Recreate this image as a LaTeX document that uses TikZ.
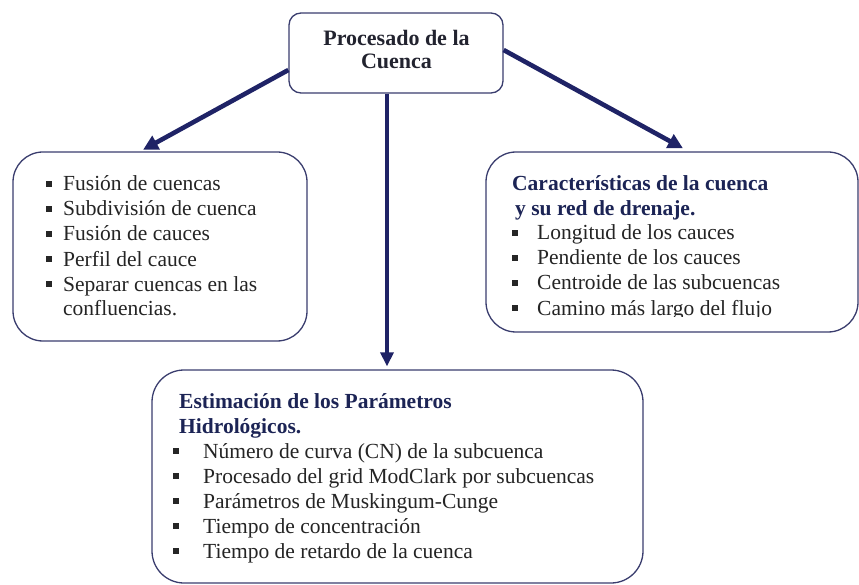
\documentclass[tikz,border=0pt]{standalone}
\usepackage{fontspec}
\setmainfont{Liberation Serif}
\usetikzlibrary{arrows.meta,calc}
\definecolor{navy}{HTML}{1F2366}
\definecolor{boxline}{HTML}{3A3D6E}
\definecolor{titlec}{HTML}{1C2455}
\definecolor{topc}{HTML}{22232F}
\definecolor{bodyc}{HTML}{242424}
\begin{document}
\begin{tikzpicture}[x=1pt,y=-1pt,
  box/.style={draw=boxline, line width=1.3pt, rounded corners=30pt, fill=white, inner sep=0pt},
  arr/.style={draw=navy, line width=4.6pt, -{Triangle[length=15pt,width=15pt]}},
  varr/.style={draw=navy, line width=3.8pt, -{Triangle[length=14pt,width=13pt]}},
  itemtxt/.style={anchor=base west, inner sep=0pt, font=\fontsize{21.5}{25}\selectfont, text=bodyc},
  ttl/.style={anchor=base west, inner sep=0pt, font=\fontsize{21.5}{25}\selectfont\bfseries, text=titlec},
  toptxt/.style={anchor=base, inner sep=0pt, font=\fontsize{22}{24}\selectfont\bfseries, text=topc},
  bul/.style={fill=black!85, minimum size=6pt, inner sep=0pt}]
\useasboundingbox (0,0) rectangle (859,585);

% boxes
\node[box, minimum width=214pt, minimum height=80pt, rounded corners=12pt] (top) at (396,53) {};
\node[box, minimum width=294pt, minimum height=189pt] (lbox) at (160,246.5) {};
\node[box, minimum width=372pt, minimum height=180pt] (rbox) at (672,242) {};
\node[box, minimum width=491pt, minimum height=213pt, rounded corners=32pt] (bbox) at (397.5,476.5) {};

% top text
\node[toptxt] (t1) at (396.5,46) {Procesado de la};
\node[toptxt] (t2) at (396.5,69) {Cuenca};

% left box
\foreach \t [count=\i] in {Fusión de cuencas, Subdivisión de cuenca, Fusión de cauces, Perfil del cauce, Separar cuencas en las}{
  \node[itemtxt] (l\i) at (63,{166+25*\i}) {\t};
  \node[bul] (lb\i) at (49,{159+25*\i}) {};
}
\node[itemtxt] (l6) at (63,316) {confluencias.};

% right box
\node[ttl] (rt1) at (512,191) {Características de la cuenca};
\node[ttl] (rt2) at (515,216) {y su red de drenaje.};
\foreach \t [count=\i] in {Longitud de los cauces, Pendiente de los cauces, Centroide de las subcuencas}{
  \node[itemtxt] (r\i) at (537,{215+25*\i}) {\t};
  \node[bul] (rb\i) at (515,{208+25*\i}) {};
}
\begin{scope}
  \clip (500,290) rectangle (850,316.5);
  \node[itemtxt] (r4) at (537,315) {Camino más largo del flujo};
\end{scope}
\node[bul] (rb4) at (515,308) {};

% bottom box
\node[ttl] (bt1) at (179,408) {Estimación de los Parámetros};
\node[ttl] (bt2) at (179,433) {Hidrológicos.};
\foreach \t [count=\i] in {Número de curva (CN) de la subcuenca, Procesado del grid ModClark por subcuencas, Parámetros de Muskingum-Cunge, Tiempo de concentración, Tiempo de retardo de la cuenca}{
  \node[itemtxt] (b\i) at (203,{433+25*\i}) {\t};
  \node[bul] (bb\i) at (176,{426+25*\i}) {};
}

% arrows
\draw[arr] ($(top.west)+(0,17)$) -- ($(lbox.north)+(-17,-1.5)$);
\draw[arr] ($(top.east)+(0,-3)$) -- ($(rbox.north)+(11,-3)$);
\draw[varr] ($(top.south)+(-9,0)$) -- ($(bbox.north)+(-10.5,-3)$);
\end{tikzpicture}
\end{document}
